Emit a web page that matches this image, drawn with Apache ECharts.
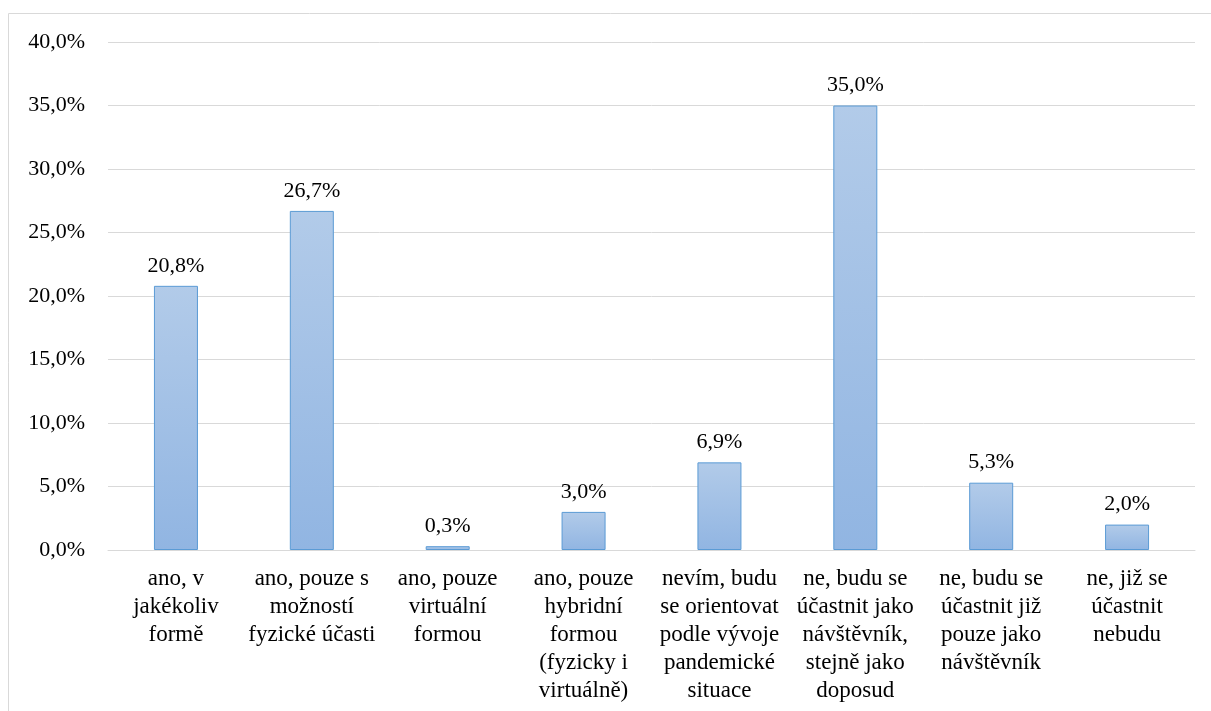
<!DOCTYPE html>
<html>
<head>
<meta charset="utf-8">
<script src="https://cdn.jsdelivr.net/npm/echarts@6/dist/echarts.min.js"></script>
<style>
  html, body { margin: 0; padding: 0; background: #fff; }
  #chart { width: 1211px; height: 711px; }
</style>
</head>
<body>
<div id="chart"></div>
<script>
const categories = [
  'ano, v\njakékoliv\nformě',
  'ano, pouze s\nmožností\nfyzické účasti',
  'ano, pouze\nvirtuální\nformou',
  'ano, pouze\nhybridní\nformou\n(fyzicky i\nvirtuálně)',
  'nevím, budu\nse orientovat\npodle vývoje\npandemické\nsituace',
  'ne, budu se\núčastnit jako\nnávštěvník,\nstejně jako\ndoposud',
  'ne, budu se\núčastnit již\npouze jako\nnávštěvník',
  'ne, již se\núčastnit\nnebudu'
]
const values = [20.8, 26.7, 0.3, 3.0, 6.9, 35.0, 5.3, 2.0]

const fmt = (v) => v.toFixed(1).replace('.', ',') + '%'
const font = "'Liberation Serif', 'Times New Roman', serif"

const chart = echarts.init(document.getElementById('chart'))
chart.setOption({
  animation: false,
  textStyle: { fontFamily: font },
  graphic: [
    {
      type: 'rect',
      shape: { x: 8.5, y: 13.5, width: 1220, height: 720 },
      style: { fill: 'none', stroke: '#d9d9d9', lineWidth: 1 }
    }
  ],
  grid: { left: 108, right: 16, top: 42, bottom: 161, outerBoundsMode: 'none' },
  xAxis: {
    type: 'category',
    data: categories,
    axisLine: { lineStyle: { color: '#d9d9d9', width: 1 } },
    axisTick: { show: false },
    axisLabel: {
      interval: 0,
      color: '#000',
      fontFamily: font,
      fontSize: 23,
      lineHeight: 28,
      margin: 15
    }
  },
  yAxis: {
    type: 'value',
    min: 0,
    max: 40,
    interval: 5,
    axisLine: { show: false },
    axisTick: { show: false },
    splitLine: { lineStyle: { color: '#d9d9d9', width: 1 } },
    axisLabel: {
      color: '#000',
      fontFamily: font,
      fontSize: 22,
      margin: 23,
      formatter: (v) => fmt(v)
    }
  },
  series: [
    {
      type: 'bar',
      data: values,
      barWidth: 44,
      itemStyle: {
        color: new echarts.graphic.LinearGradient(0, 0, 0, 1, [
          { offset: 0, color: '#b2cbe9' },
          { offset: 1, color: '#91b5e2' }
        ]),
        borderColor: '#5b9bd5',
        borderWidth: 1
      },
      label: {
        show: true,
        position: 'top',
        distance: 9,
        color: '#000',
        fontFamily: font,
        fontSize: 22,
        formatter: (p) => fmt(p.value)
      }
    }
  ]
})
</script>
</body>
</html>
